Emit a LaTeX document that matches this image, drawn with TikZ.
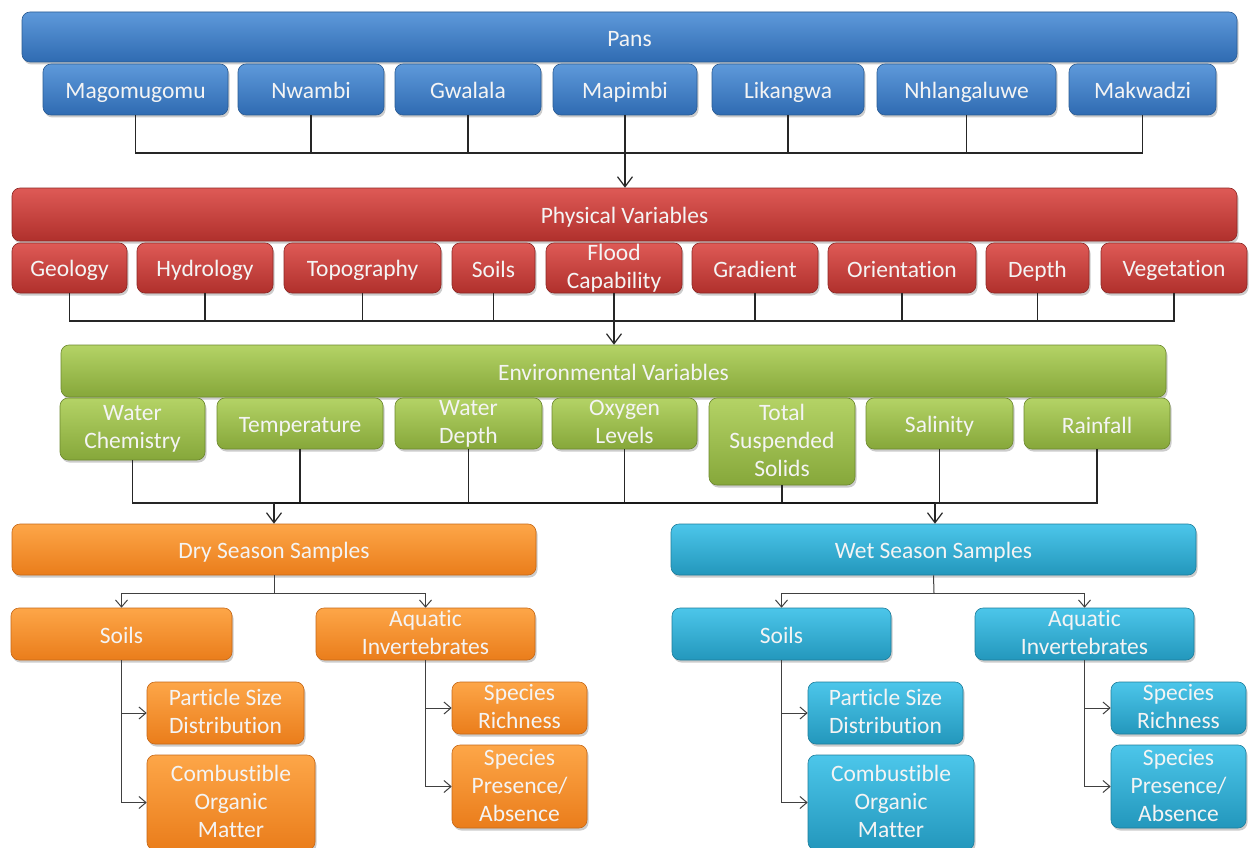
\documentclass[tikz,border=0pt]{standalone}
\usepackage{fontspec}
\setmainfont{Carlito}[Ligatures={NoCommon,NoRare,NoContextual}]
\usetikzlibrary{arrows.meta,shadows,calc}

\definecolor{blT}{HTML}{5E99DA}\definecolor{blB}{HTML}{2F6BB2}\definecolor{blD}{HTML}{2A5B93}
\definecolor{rdT}{HTML}{DE5A56}\definecolor{rdB}{HTML}{B0302C}\definecolor{rdD}{HTML}{8C2724}
\definecolor{grT}{HTML}{B4D366}\definecolor{grB}{HTML}{86A73A}\definecolor{grD}{HTML}{6C882E}
\definecolor{orT}{HTML}{FDA648}\definecolor{orB}{HTML}{EA7D1B}\definecolor{orD}{HTML}{C66817}
\definecolor{aqT}{HTML}{4CC6EA}\definecolor{aqB}{HTML}{2397BC}\definecolor{aqD}{HTML}{1D7D9B}
\definecolor{txt}{HTML}{F4F4F4}

\newcommand\mybox[7]{\node[#6, minimum width={(#4)-(#2)}, minimum height={(#5)-(#3)}] (#1) at ({((#2)+(#4))/2},{((#3)+(#5))/2}) {#7};}

\begin{document}
\begin{tikzpicture}[x=1pt,y=-1pt,
  box/.style={rounded corners=8pt, inner sep=0pt, align=center, text=txt,
    font=\fontsize{23.5}{28}\selectfont,
    execute at begin node=\rule{0pt}{22pt},
    execute at end node=\rule[-3pt]{0pt}{3pt},
    drop shadow={shadow xshift=1.5pt,shadow yshift=-2.5pt,opacity=0.4},
    line width=0.6pt},
  bluebox/.style={box, top color=blT, bottom color=blB, draw=blD},
  redbox/.style={box, top color=rdT, bottom color=rdB, draw=rdD},
  greenbox/.style={box, top color=grT, bottom color=grB, draw=grD},
  orangebox/.style={box, top color=orT, bottom color=orB, draw=orD},
  aquabox/.style={box, top color=aqT, bottom color=aqB, draw=aqD},
  link/.style={draw=black!85, line width=1.1pt},
  tip/.style={-{Straight Barb[length=10pt,width=15pt,line width=1.2pt]}},
  sublink/.style={draw=black!75, line width=1pt},
  subtip/.style={-{Straight Barb[length=7pt,width=12pt,line width=1pt]}},
]
\useasboundingbox[fill=white] (0,0) rectangle (1253,848);

% ---- Pans
\mybox{pans}{22}{12}{1237}{62}{bluebox}{Pans}
\mybox{mag}{43}{64}{228}{115}{bluebox}{Magomugomu}
\mybox{nwa}{238}{64}{384}{115}{bluebox}{Nwambi}
\mybox{gwa}{395}{64}{541}{115}{bluebox}{Gwalala}
\mybox{mapi}{553}{64}{697}{115}{bluebox}{Mapimbi}
\mybox{lik}{712}{64}{864}{115}{bluebox}{Likangwa}
\mybox{nhl}{877}{64}{1056}{115}{bluebox}{Nhlangaluwe}
\mybox{mak}{1069}{64}{1216}{115}{bluebox}{Makwadzi}

% ---- Physical
\mybox{phys}{12}{188}{1237}{241}{redbox}{Physical Variables}
\mybox{geo}{12}{243}{127}{293}{redbox}{Geology}
\mybox{hyd}{137}{243}{273}{293}{redbox}{Hydrology}
\mybox{topo}{284}{243}{441}{293}{redbox}{Topography}
\mybox{soil}{452}{243}{535}{293}{redbox}{Soils}
\mybox{flood}{546}{243}{682}{293}{redbox}{Flood\\Capability}
\mybox{grad}{692}{243}{818}{293}{redbox}{Gradient}
\mybox{ori}{828}{243}{976}{293}{redbox}{Orientation}
\mybox{dep}{986}{243}{1089}{293}{redbox}{Depth}
\mybox{veg}{1101}{243}{1247}{293}{redbox}{Vegetation}

% ---- Environmental
\mybox{env}{61}{345}{1166}{397}{greenbox}{Environmental Variables}
\mybox{wch}{60}{398}{205}{460}{greenbox}{Water\\Chemistry}
\mybox{tmp}{217}{398}{383}{449}{greenbox}{Temperature}
\mybox{wdp}{395}{398}{542}{449}{greenbox}{Water\\Depth}
\mybox{oxy}{552}{398}{697}{449}{greenbox}{Oxygen\\Levels}
\mybox{tss}{709}{398}{855}{485}{greenbox}{Total\\Suspended\\Solids}
\mybox{sal}{866}{398}{1013}{449}{greenbox}{Salinity}
\mybox{rain}{1024}{398}{1170}{449}{greenbox}{Rainfall}

% ---- Seasons
\mybox{dry}{12}{524}{536}{575}{orangebox}{Dry Season Samples}
\mybox{wet}{671}{524}{1196}{575}{aquabox}{Wet Season Samples}

\mybox{dsoil}{11}{608}{232}{660}{orangebox}{Soils}
\mybox{daq}{316}{608}{535}{660}{orangebox}{Aquatic\\Invertebrates}
\mybox{dpart}{147}{682}{304}{744}{orangebox}{Particle Size\\Distribution}
\mybox{dcomb}{147}{755}{315}{850}{orangebox}{Combustible\\Organic\\Matter}
\mybox{drich}{452}{682}{587}{734}{orangebox}{Species\\Richness}
\mybox{dpres}{452}{745}{587}{828}{orangebox}{Species\\Presence/\\Absence}

\mybox{wsoil}{672}{608}{891}{660}{aquabox}{Soils}
\mybox{waq}{975}{608}{1194}{660}{aquabox}{Aquatic\\Invertebrates}
\mybox{wpart}{808}{682}{963}{744}{aquabox}{Particle Size\\Distribution}
\mybox{wcomb}{808}{755}{974}{850}{aquabox}{Combustible\\Organic\\Matter}
\mybox{wrich}{1111}{682}{1246}{734}{aquabox}{Species\\Richness}
\mybox{wpres}{1111}{745}{1246}{828}{aquabox}{Species\\Presence/\\Absence}

% ---- connectors: Pans -> Physical
\coordinate (j1) at (625,153);
\foreach \n in {mag,nwa,gwa,mapi,lik,nhl,mak} \draw[link] (\n.south) |- (j1);
\draw[link,tip] (j1) -- (j1 |- phys.north);

% ---- Physical -> Environmental
\coordinate (j2) at (614,321);
\foreach \n in {geo,hyd,topo,soil,flood,grad,ori,dep,veg} \draw[link] (\n.south) |- (j2);
\draw[link,tip] (j2) -- (j2 |- env.north);

% ---- Environmental -> Seasons
\coordinate (jd) at (274,503);
\coordinate (jw) at (935,503);
\draw[link] (wch.south) |- (jd) -- (jw) -| (rain.south);
\foreach \n in {tmp,wdp,oxy,tss,sal} \draw[link] (\n.south) -- (\n.south |- jd);
\draw[line width=2.4pt, black!90] (jd) -- (jw);
\draw[link,tip] (jd) -- (jd |- dry.north);
\draw[link,tip] (jw) -- (jw |- wet.north);

% ---- Dry season subtree
\coordinate (dj) at (274,593);
\draw[sublink] (dry.south) -- (dj);
\draw[sublink,subtip] (dj) -| (dsoil.north);
\draw[sublink,subtip] (dj) -| (daq.north);
\draw[sublink,subtip] (dsoil.south) |- (dpart.west);
\draw[sublink,subtip] (dsoil.south) |- (dcomb.west);
\draw[sublink,subtip] (daq.south) |- (drich.west);
\draw[sublink,subtip] (daq.south) |- (dpres.west);

% ---- Wet season subtree
\coordinate (wj) at (934,593);
\draw[sublink] (wet.south) -- (wj);
\draw[sublink,subtip] (wj) -| (wsoil.north);
\draw[sublink,subtip] (wj) -| (waq.north);
\draw[sublink,subtip] (wsoil.south) |- (wpart.west);
\draw[sublink,subtip] (wsoil.south) |- (wcomb.west);
\draw[sublink,subtip] (waq.south) |- (wrich.west);
\draw[sublink,subtip] (waq.south) |- (wpres.west);
\end{tikzpicture}
\end{document}
